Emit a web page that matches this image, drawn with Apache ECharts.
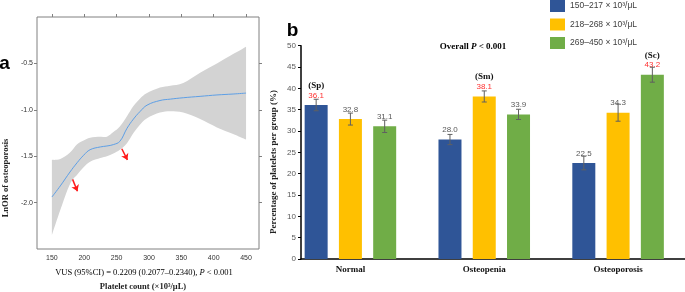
<!DOCTYPE html>
<html>
<head>
<meta charset="utf-8">
<script src="https://cdn.jsdelivr.net/npm/echarts@6/dist/echarts.min.js"></script>
<style>
    html, body { margin: 0; padding: 0; background: #fff; }
    #chart { width: 685px; height: 292px; }
</style>
</head>
<body>
<div id="chart"></div>
<script>
// ---- panel a: spline curve of LnOR against platelet count ----
const plateletX = [150, 163, 178, 189, 199, 209, 225, 235, 245, 255, 266, 276, 286, 297, 317, 333, 353, 379, 405, 430, 450];
const fitLnOR  = [-1.94, -1.82, -1.67, -1.57, -1.49, -1.43, -1.40, -1.39, -1.375, -1.34, -1.20, -1.10, -1.02, -0.95, -0.90, -0.885, -0.87, -0.855, -0.84, -0.83, -0.82];
const ciLower  = [-2.35, -2.08, -1.80, -1.70, -1.62, -1.56, -1.52, -1.50, -1.47, -1.43, -1.36, -1.25, -1.16, -1.09, -1.03, -1.015, -1.03, -1.10, -1.19, -1.26, -1.32];
const ciUpper  = [-1.54, -1.53, -1.46, -1.37, -1.33, -1.30, -1.29, -1.29, -1.24, -1.18, -1.07, -0.96, -0.88, -0.82, -0.76, -0.74, -0.71, -0.60, -0.50, -0.40, -0.32];
const xTicksA = [150, 200, 250, 300, 350, 400, 450];
const yTicksA = [-2.0, -1.5, -1.0, -0.5];

// ---- panel b: platelet tertiles by bone status ----
const groups = ["Normal", "Osteopenia", "Osteoporosis"];
const bandNames = ["150–217 × 10³/μL", "218–268 × 10³/μL", "269–450 × 10³/μL"];
const pctLow  = [36.1, 28.0, 22.5];
const pctMid  = [32.8, 38.1, 34.3];
const pctHigh = [31.1, 33.9, 43.2];
const errLow  = [1.35, 1.2, 1.6];
const errMid  = [1.4, 1.3, 2.0];
const errHigh = [1.45, 1.2, 1.75];
const tagLow  = ["(Sp)", "", ""];
const tagMid  = ["", "(Sm)", ""];
const tagHigh = ["", "", "(Sc)"];

const barColors = ["#2f5597", "#ffc000", "#70ad47"];
const SERIF = "'Liberation Serif', 'DejaVu Serif', serif";
const SANS = "'Liberation Sans', Arial, sans-serif";
const BAR_W = 23;
const BAR_GAP = 0.49;
const BAR_STEP = BAR_W * (1 + BAR_GAP);

const chart = echarts.init(document.getElementById("chart"));

function zip(xs, ys) {
    return xs.map((x, i) => [x, ys[i]]);
}

// catmull-rom through the points, written as svg bezier segments
function splinePath(pts, start) {
    let d = (start ? "M" : "L") + pts[0][0] + "," + pts[0][1];
    for (let i = 0; i < pts.length - 1; i++) {
        const p0 = pts[Math.max(i - 1, 0)];
        const p1 = pts[i];
        const p2 = pts[i + 1];
        const p3 = pts[Math.min(i + 2, pts.length - 1)];
        const c1x = p1[0] + (p2[0] - p0[0]) / 6, c1y = p1[1] + (p2[1] - p0[1]) / 6;
        const c2x = p2[0] - (p3[0] - p1[0]) / 6, c2y = p2[1] - (p3[1] - p1[1]) / 6;
        d += "C" + c1x + "," + c1y + " " + c2x + "," + c2y + " " + p2[0] + "," + p2[1];
    }
    return d;
}

function barSeries(k, values, tags) {
    return {
        name: bandNames[k],
        type: "bar",
        xAxisIndex: 3,
        yAxisIndex: 3,
        barWidth: BAR_W,
        barGap: (BAR_GAP * 100) + "%",
        itemStyle: { color: barColors[k] },
        data: values,
        label: {
            show: true,
            position: "top",
            distance: 5,
            formatter: (p) => {
                const v = p.value.toFixed(1);
                const t = tags[p.dataIndex];
                return t ? "{t|" + t + "}\n{r|" + v + "}" : "{n|" + v + "}";
            },
            rich: {
                t: { fontFamily: SERIF, fontWeight: "bold", fontSize: 9, color: "#111", lineHeight: 11 },
                r: { fontFamily: SANS, fontSize: 8, color: "#ff3030", lineHeight: 9 },
                n: { fontFamily: SANS, fontSize: 8, color: "#595959", lineHeight: 9 },
            },
        },
        z: 2,
    };
}

function errorSeries(k, values, errs) {
    return {
        type: "custom",
        xAxisIndex: 3,
        yAxisIndex: 3,
        silent: true,
        z: 3,
        data: values.map((v, i) => [i, v - errs[i], v + errs[i]]),
        renderItem: (params, api) => {
            const lo = api.coord([api.value(0), api.value(1)]);
            const hi = api.coord([api.value(0), api.value(2)]);
            const x = lo[0] + (k - 1) * BAR_STEP;
            const cap = 2.5;
            const style = { stroke: "#606060", lineWidth: 1 };
            return {
                type: "group",
                children: [
                    { type: "line", shape: { x1: x, y1: lo[1], x2: x, y2: hi[1] }, style },
                    { type: "line", shape: { x1: x - cap, y1: lo[1], x2: x + cap, y2: lo[1] }, style },
                    { type: "line", shape: { x1: x - cap, y1: hi[1], x2: x + cap, y2: hi[1] }, style },
                ],
            };
        },
    };
}

const tickLabelA = { fontFamily: SANS, fontSize: 7, color: "#333" };
const frameColor = "#808080";

chart.setOption({
    animation: false,
    textStyle: { fontFamily: SANS },
    legend: {
        data: bandNames,
        orient: "vertical",
        left: 550,
        top: 0,
        padding: 0,
        itemWidth: 15,
        itemHeight: 12,
        itemGap: 6.5,
        icon: "rect",
        textStyle: { fontFamily: SANS, fontSize: 8.5, color: "#404040" },
    },
    grid: [
        { left: 37, top: 17, width: 222, height: 232, show: true, borderColor: frameColor, borderWidth: 1 },
        { left: 301, top: 45.7, right: 0, height: 213.3 },
        { left: 283.5, top: 45.7, width: 417, height: 213.3 },
    ],
    xAxis: [
        {
            gridIndex: 0, type: "value", min: 127, max: 470, position: "bottom",
            axisLine: { show: false }, axisTick: { show: false }, splitLine: { show: false },
            axisLabel: Object.assign({ customValues: xTicksA, margin: 6 }, tickLabelA),
        },
        {
            gridIndex: 0, type: "value", min: 127, max: 470, position: "top",
            axisLine: { show: false }, splitLine: { show: false }, axisLabel: { show: false },
            axisTick: { show: true, customValues: xTicksA, length: 3, lineStyle: { color: frameColor } },
        },
        {
            gridIndex: 1, type: "value", min: 0, max: 1,
            axisLine: { show: true, lineStyle: { color: "#000", width: 1.5 } },
            axisTick: { show: false }, axisLabel: { show: false }, splitLine: { show: false },
        },
        {
            gridIndex: 2, type: "category", data: groups,
            axisLine: { show: false }, axisTick: { show: false },
            axisLabel: { fontFamily: SERIF, fontWeight: "bold", fontSize: 9, color: "#111", margin: 6 },
        },
    ],
    yAxis: [
        {
            gridIndex: 0, type: "value", min: -2.5, max: 0, position: "left",
            axisLine: { show: false }, splitLine: { show: false },
            axisTick: { show: true, customValues: yTicksA, length: 3, lineStyle: { color: frameColor } },
            axisLabel: Object.assign({ customValues: yTicksA, margin: 4, formatter: (v) => v.toFixed(1) }, tickLabelA),
        },
        {
            gridIndex: 0, type: "value", min: -2.5, max: 0, position: "right",
            axisLine: { show: false }, splitLine: { show: false }, axisLabel: { show: false },
            axisTick: { show: true, customValues: yTicksA, length: 3, lineStyle: { color: frameColor } },
        },
        {
            gridIndex: 1, type: "value", min: 0, max: 50, interval: 5,
            axisLine: { show: true, lineStyle: { color: "#000", width: 1.5 } },
            axisTick: { show: true, length: 3, lineStyle: { color: "#000" } },
            axisLabel: { fontFamily: SANS, fontSize: 8, color: "#595959", margin: 5 },
            splitLine: { show: false },
        },
        { gridIndex: 2, type: "value", min: 0, max: 50, show: false },
    ],
    graphic: [
        { type: "text", x: 4.5, y: 64, style: { text: "a", font: "bold 19px " + SANS, fill: "#000", align: "center", verticalAlign: "middle" } },
        { type: "text", x: 292.5, y: 31, style: { text: "b", font: "bold 19px " + SANS, fill: "#000", align: "center", verticalAlign: "middle" } },
        { type: "text", x: 6, y: 178, rotation: Math.PI / 2, style: { text: "LnOR of osteoporosis", font: "bold 8.5px " + SERIF, fill: "#222", align: "center", verticalAlign: "middle" } },
        { type: "text", x: 274, y: 162, rotation: Math.PI / 2, style: { text: "Percentage of platelets per group (%)", font: "bold 9px " + SERIF, fill: "#222", align: "center", verticalAlign: "middle" } },
        {
            type: "text", x: 144, y: 273,
            style: {
                text: "{n|VUS (95%CI) = 0.2209 (0.2077–0.2340), }{i|P}{n| < 0.001}",
                align: "center", verticalAlign: "middle",
                rich: {
                    n: { fontFamily: SERIF, fontSize: 8.5, color: "#333" },
                    i: { fontFamily: SERIF, fontSize: 8.5, fontStyle: "italic", color: "#333" },
                },
            },
        },
        { type: "text", x: 143, y: 287, style: { text: "Platelet count (×10³/μL)", font: "bold 8.5px " + SERIF, fill: "#222", align: "center", verticalAlign: "middle" } },
        {
            type: "text", x: 473, y: 47,
            style: {
                text: "{n|Overall }{i|P}{n| < 0.001}",
                align: "center", verticalAlign: "middle",
                rich: {
                    n: { fontFamily: SERIF, fontSize: 9, fontWeight: "bold", color: "#111" },
                    i: { fontFamily: SERIF, fontSize: 9, fontWeight: "bold", fontStyle: "italic", color: "#111" },
                },
            },
        },
    ],
    series: [
        {
            // 95% CI band
            type: "custom", xAxisIndex: 0, yAxisIndex: 0, silent: true, z: 1,
            data: plateletX.map((x, i) => [x, ciLower[i], ciUpper[i]]),
            renderItem: (params, api) => {
                if (params.dataIndex !== 0) return null;
                const up = plateletX.map((x, i) => api.coord([x, ciUpper[i]]));
                const lo = plateletX.map((x, i) => api.coord([x, ciLower[i]])).reverse();
                const d = splinePath(up, true) + splinePath(lo, false) + "Z";
                return { type: "path", shape: { pathData: d }, style: { fill: "#d3d3d3" } };
            },
        },
        {
            type: "line", xAxisIndex: 0, yAxisIndex: 0,
            data: zip(plateletX, fitLnOR),
            smooth: 0.4, symbol: "none", silent: true, z: 2,
            lineStyle: { color: "#5d9fe6", width: 1 },
            markLine: {
                silent: true,
                symbol: ["none", "arrow"],
                symbolSize: 6,
                label: { show: false },
                lineStyle: { color: "#ff1a1a", width: 1.5, type: "solid" },
                data: [
                    [{ coord: [182, -1.75] }, { coord: [189.5, -1.877] }],
                    [{ coord: [258, -1.42] }, { coord: [266.7, -1.54] }],
                ],
            },
        },
        barSeries(0, pctLow, tagLow),
        barSeries(1, pctMid, tagMid),
        barSeries(2, pctHigh, tagHigh),
        errorSeries(0, pctLow, errLow),
        errorSeries(1, pctMid, errMid),
        errorSeries(2, pctHigh, errHigh),
    ],
});
</script>
</body>
</html>
